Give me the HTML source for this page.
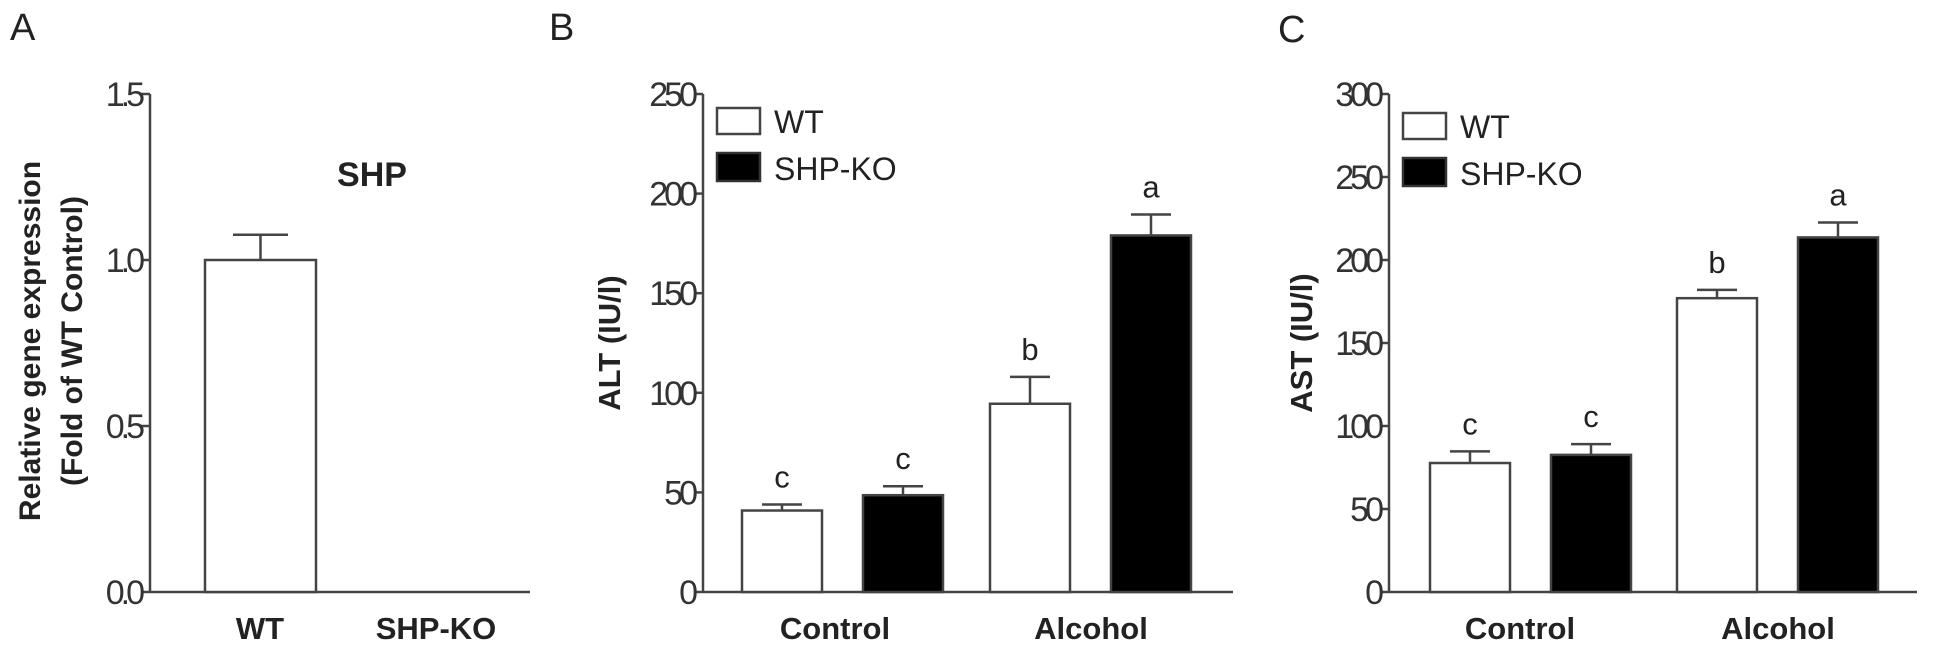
<!DOCTYPE html>
<html><head><meta charset="utf-8"><style>
html,body{margin:0;padding:0;background:#fff;}
svg{display:block;font-family:"Liberation Sans",Arial,sans-serif;}
</style></head><body>
<svg id="fig" width="1933" height="653" viewBox="0 0 1933 653">
<text x="10" y="40" font-size="38" fill="#222">A</text>
<text x="549" y="40" font-size="38" fill="#222">B</text>
<text x="1278" y="42" font-size="38" fill="#222">C</text>
</svg>
<script>
const aCats = ["WT","SHP-KO"];
const aVals = [1.0, 0];
const aErrs = [0.076, 0];
const aTicks = ["0.0","0.5","1.0","1.5"];
const groups = ["Control","Alcohol"];
const bWT = [40.9, 94.5];
const bWTerr = [3, 13.5];
const bKO = [48.6, 179];
const bKOerr = [4.5, 10.5];
const bLetters = ["c","c","b","a"];
const bTicks = [0,50,100,150,200,250];
const cWT = [77.7, 177];
const cWTerr = [7, 5];
const cKO = [82.6, 213.6];
const cKOerr = [6.5, 9];
const cLetters = ["c","c","b","a"];
const cTicks = [0,50,100,150,200,250,300];

const svg = document.getElementById('fig');
const NS = 'http://www.w3.org/2000/svg';
function mk(tag, attrs, text){const e=document.createElementNS(NS,tag);for(const k in attrs)e.setAttribute(k,attrs[k]);if(text!==undefined)e.textContent=text;svg.appendChild(e);return e;}
const Y0=592, Ytop=94;
function yScale(max){return v=>Y0-(v/max)*(Y0-Ytop);}

function axis(ax, xEnd, max, ticks, prefix){
  const y=yScale(max);
  let e=mk('line',{x1:ax,y1:Ytop,x2:ax,y2:Y0,stroke:'#444','stroke-width':2.5});
  
  
  e=mk('line',{x1:ax,y1:Y0,x2:xEnd,y2:Y0,stroke:'#444','stroke-width':2.5});
  
  
  ticks.forEach(t=>{
    const v=parseFloat(t);
    let l=mk('line',{x1:ax-9,y1:y(v),x2:ax,y2:y(v),stroke:'#444','stroke-width':2.5});
    
    
    let tx=mk('text',{x:ax-9,y:y(v)+12,'font-size':34,'text-anchor':'end','letter-spacing':-4,fill:'#333'},t);
    
    
  });
  return y;
}
function bar(x,w,v,err,fill,y,prefix,letter,capW){
  const top=y(v);
  if(v>0){
    let r=mk('rect',{x:x,y:top,width:w,height:Y0-top,fill:fill,stroke:'#444','stroke-width':2.5});
    
    
  }
  if(err>0){
    const cx=x+w/2, et=y(v+err);
    let l=mk('line',{x1:cx,y1:top,x2:cx,y2:et,stroke:'#444','stroke-width':2.5});
    
    
    l=mk('line',{x1:cx-capW/2,y1:et,x2:cx+capW/2,y2:et,stroke:'#444','stroke-width':2.5});
    
    
    if(letter){
      let t=mk('text',{x:cx,y:et-17,'font-size':31,'text-anchor':'middle',fill:'#222'},letter);
      
      
    }
  }
}
function ytitle(x,y,lines,prefix,fs,gap){
  lines.forEach((s,i)=>{
    let t=mk('text',{x:0,y:0,'font-size':fs,'font-weight':'bold','text-anchor':'middle',fill:'#222',transform:`translate(${x+i*gap},${y}) rotate(-90)`},s);
    
    
  });
}

// Panel A
let yA=axis(150,530,1.5,aTicks,'panel-a');
const aX=[205,380];
aCats.forEach((c,i)=>{
  bar(aX[i],111,aVals[i],aErrs[i],'#fff',yA,'panel-a-'+c.toLowerCase(),null,55);
});
const aLabX=[260,436];
aCats.forEach((c,i)=>{
  let t=mk('text',{x:aLabX[i],y:639,'font-size':31,'font-weight':'bold','text-anchor':'middle',fill:'#222'},c);
  
  
});
let st=mk('text',{x:372,y:186,'font-size':34,'font-weight':'bold','text-anchor':'middle',fill:'#222'},'SHP');


ytitle(40,341,['Relative gene expression','(Fold of WT Control)'],'panel-a',30,42);

function grouped(prefix,ax,xEnd,max,ticks,wt,wte,ko,koe,letters,starts,labX,legY,title,titleX){
  const y=axis(ax,xEnd,max,ticks.map(String),prefix);
  groups.forEach((g,i)=>{
    bar(starts[i],80,wt[i],wte[i],'#fff',y,prefix+'-wt-'+g.toLowerCase(),letters[i*2],40);
    bar(starts[i]+121,80,ko[i],koe[i],'#000',y,prefix+'-shpko-'+g.toLowerCase(),letters[i*2+1],40);
    let t=mk('text',{x:labX[i],y:639,'font-size':31,'font-weight':'bold','text-anchor':'middle',fill:'#222'},g);
    
    
  });
  const lx=ax+14;
  let r=mk('rect',{x:lx,y:legY,width:43,height:26,fill:'#fff',stroke:'#444','stroke-width':2.5});
  
  
  let t=mk('text',{x:lx+57,y:legY+25,'font-size':32,fill:'#222'},'WT');
  
  
  r=mk('rect',{x:lx,y:legY+45,width:43,height:28,fill:'#000',stroke:'#333','stroke-width':2.5});
  
  
  t=mk('text',{x:lx+57,y:legY+72,'font-size':32,fill:'#222'},'SHP-KO');
  
  
  ytitle(titleX,343,[title],prefix,31,0);
}
grouped('panel-b',703,1233,250,bTicks,bWT,bWTerr,bKO,bKOerr,bLetters,[742,990],[835,1091],108,'ALT (IU/l)',620);
grouped('panel-c',1389,1917,300,cTicks,cWT,cWTerr,cKO,cKOerr,cLetters,[1430,1677],[1520,1778],113,'AST (IU/l)',1312);
</script>
</body></html>
